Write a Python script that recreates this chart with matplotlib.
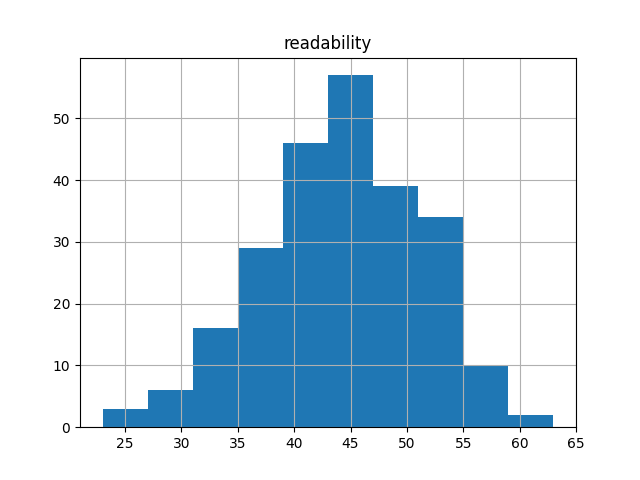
import numpy as np
import matplotlib
matplotlib.use("Agg")
import matplotlib.pyplot as plt

# histogram of readability scores (10 bins)
bin_edges = [23, 27, 31, 35, 39, 43, 47, 51, 55, 59, 63]
counts = [3, 6, 16, 29, 46, 57, 39, 34, 10, 2]

fig, ax = plt.subplots(figsize=(6.4, 4.8), dpi=100)
ax.hist(bin_edges[:-1], bins=bin_edges, weights=counts, color="#1f77b4")
ax.grid(True)
ax.set_title("readability")
ax.set_xticks([25, 30, 35, 40, 45, 50, 55, 60, 65])

fig.savefig("out.png", dpi=100)
